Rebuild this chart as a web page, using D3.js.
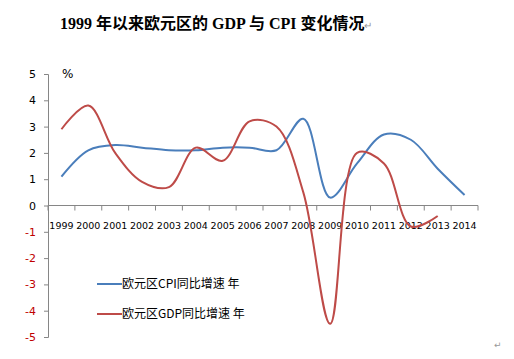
<!DOCTYPE html>
<html>
<head>
<meta charset="utf-8">
<script src="https://cdn.jsdelivr.net/npm/d3@7"></script>
<style>
body { margin: 0; background: #fff; }
svg text { font-family: "DejaVu Sans", sans-serif; }
</style>
</head>
<body>
<div class="chart"></div>
<script>
// data
var years = ['1999','2000','2001','2002','2003','2004','2005','2006','2007','2008','2009','2010','2011','2012','2013','2014'];
var cpi = [1.1, 2.1, 2.3, 2.2, 2.1, 2.1, 2.2, 2.2, 2.1, 3.3, 0.3, 1.6, 2.7, 2.5, 1.4, 0.4];
var gdp = [2.9, 3.8, 2.0, 0.9, 0.7, 2.2, 1.7, 3.2, 3.0, 0.5, -4.5, 2.0, 1.6, -0.8, -0.4];
var yTicks = [5, 4, 3, 2, 1, 0, -1, -2, -3, -4, -5];
var seriesNames = ['欧元区CPI同比增速 年', '欧元区GDP同比增速 年'];

var svgWidth = 514;
var svgHeight = 359;

var margin = { top: 74, bottom: 22, right: 36, left: 48 };
var width = svgWidth - margin.left - margin.right;
var height = svgHeight - margin.top - margin.bottom;

var svg = d3.select('.chart')
	.append('svg')
	.attr('width', svgWidth)
	.attr('height', svgHeight);

// title
var title = svg.append('text')
	.attr('x', 60)
	.attr('y', 29)
	.style('font-family', '"Liberation Serif", "Noto Sans CJK SC", serif')
	.style('font-weight', 'bold')
	.style('font-size', '16px')
	.attr('fill', '#000');
title.append('tspan').text('1999 年以来欧元区的 GDP 与 CPI 变化情况');
title.append('tspan')
	.attr('fill', '#999')
	.style('font-size', '10px')
	.style('font-weight', 'normal')
	.text('↵');

var chart = svg.append('g')
	.attr('transform', `translate(${margin.left}, ${margin.top})`);

var x = d3.scaleBand().domain(years).range([0, width]);
var y = d3.scaleLinear().domain([-5, 5]).range([height, 0]);

var axisColor = '#868686';

// x axis at zero: ticks on band edges, below the line
var xAxis = chart.append('g')
	.attr('transform', `translate(0, ${y(0)})`);
xAxis.append('line')
	.attr('x1', 0).attr('x2', width)
	.attr('stroke', axisColor);
xAxis.selectAll('.tk')
	.data(years.concat(['end']))
	.enter()
	.append('line')
	.attr('x1', function(d, i) { return i * x.step(); })
	.attr('x2', function(d, i) { return i * x.step(); })
	.attr('y1', 0)
	.attr('y2', 5)
	.attr('stroke', axisColor);
xAxis.selectAll('text')
	.data(years)
	.enter()
	.append('text')
	.attr('x', function(d) { return x(d) + x.bandwidth() / 2; })
	.attr('y', 23)
	.attr('text-anchor', 'middle')
	.style('font-size', '9.5px')
	.attr('fill', '#000')
	.text(function(d) { return d; });

// y axis
var leftAxis = d3.axisLeft(y)
	.tickValues(yTicks)
	.tickFormat(function(d) { return String(d); })
	.tickSize(4)
	.tickPadding(8);
var yAxis = chart.append('g').call(leftAxis);
yAxis.select('.domain').attr('stroke', axisColor);
yAxis.selectAll('.tick line').attr('stroke', axisColor);
yAxis.selectAll('.tick text')
	.style('font-size', '11px')
	.style('font-family', '"DejaVu Sans", sans-serif')
	.attr('fill', function(d) { return d < 0 ? '#c00000' : '#000'; });

chart.append('text')
	.attr('x', 14)
	.attr('y', 4)
	.style('font-size', '12px')
	.attr('fill', '#000')
	.text('%');

// smoothed lines
var line = d3.line()
	.x(function(d, i) { return x(years[i]) + x.bandwidth() / 2; })
	.y(function(d) { return y(d); })
	.curve(d3.curveCatmullRom.alpha(0.5));

var colors = ['#4a7ebb', '#be4b48'];

chart.append('path')
	.datum(cpi)
	.attr('d', line)
	.attr('fill', 'none')
	.attr('stroke', colors[0])
	.attr('stroke-width', 2);

chart.append('path')
	.datum(gdp)
	.attr('d', line)
	.attr('fill', 'none')
	.attr('stroke', colors[1])
	.attr('stroke-width', 2);

// legend
var legend = svg.append('g');
seriesNames.forEach(function(name, i) {
	var ly = 284 + i * 30;
	legend.append('line')
		.attr('x1', 97).attr('x2', 122)
		.attr('y1', ly).attr('y2', ly)
		.attr('stroke', colors[i])
		.attr('stroke-width', 2);
	legend.append('text')
		.attr('x', 122)
		.attr('y', ly + 4)
		.style('font-family', '"Noto Sans CJK SC", sans-serif')
		.style('font-size', '12px')
		.attr('fill', '#000')
		.text(name);
});

// paragraph mark in the corner
svg.append('text')
	.attr('x', 494)
	.attr('y', 348)
	.style('font-size', '9px')
	.attr('fill', '#999')
	.text('↵');
</script>
</body>
</html>
